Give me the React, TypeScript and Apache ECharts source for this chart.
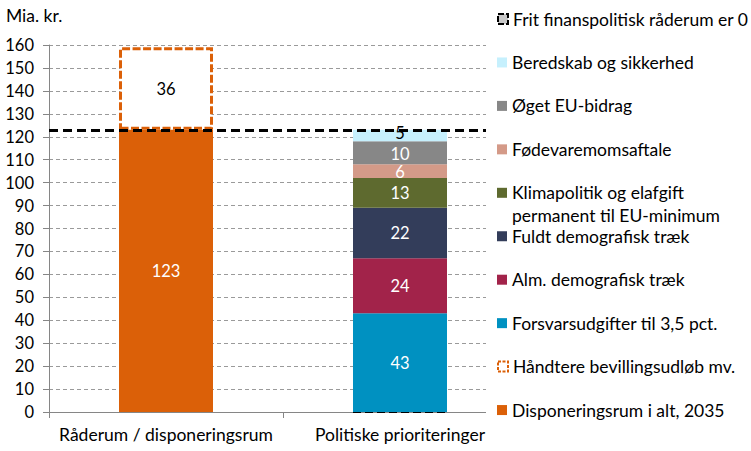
import React, { useEffect, useRef } from "react";
import * as echarts from "echarts";

const categories = ["Råderum / disponeringsrum", "Politiske prioriteringer"];
const disponeringsrum = [123, "-"];
const bevillingsudloeb = [36, "-"];
const fritRaaderum = ["-", 0];
const forsvar = ["-", 43];
const almDemografi = ["-", 24];
const fuldtDemografi = ["-", 22];
const klima = ["-", 13];
const foedevare = ["-", 6];
const euBidrag = ["-", 10];
const beredskab = ["-", 5];
const raaderumNiveau = 123;
const yMin = 0;
const yMax = 160;
const yInterval = 10;

const FONT = "Lato";
const ORANGE = "#DB6008";

const NAMES = {
  frit: "Frit finanspolitisk råderum er 0",
  beredskab: "Beredskab og sikkerhed",
  eu: "Øget EU-bidrag",
  foede: "Fødevaremomsaftale",
  klima: "Klimapolitik og elafgift permanent til EU-minimum",
  fuldt: "Fuldt demografisk træk",
  alm: "Alm. demografisk træk",
  forsvar: "Forsvarsudgifter til 3,5 pct.",
  haandtere: "Håndtere bevillingsudløb mv.",
  dispon: "Disponeringsrum i alt, 2035",
};
const klimaLine1 = "Klimapolitik og elafgift";
const klimaLine2 = "permanent til EU-minimum";

const legendOrder = [
  NAMES.frit,
  NAMES.beredskab,
  NAMES.eu,
  NAMES.foede,
  NAMES.klima,
  NAMES.fuldt,
  NAMES.alm,
  NAMES.forsvar,
  NAMES.haandtere,
  NAMES.dispon,
];

export default function App() {
  const ref = useRef<HTMLDivElement>(null);

  useEffect(() => {
    if (!ref.current) return;
    const chart = echarts.init(ref.current, null, { renderer: "svg" });

    const TXT = 17.5;
    const labelStyle = (color: string, offset: number[] = [0, 0]) => ({
      show: true,
      position: "inside",
      color,
      fontSize: 16.5,
      lineHeight: 16,
      fontFamily: FONT,
      offset,
    });

    const bar = (name: string, data: any[], color: string, labelColor: string, extra: any = {}) => ({
      name,
      type: "bar",
      stack: "total",
      barWidth: 94,
      data,
      itemStyle: { color, ...(extra.itemStyle || {}) },
      label: labelStyle(labelColor, extra.offset),
    });

    const lineH = 23;
    const step = 43.45;
    const legends = legendOrder.map((n, i) => {
      const center = 19 + step * i;
      const isKlima = n === NAMES.klima;
      let itemStyle: any = undefined;
      if (n === NAMES.haandtere) itemStyle = { color: "#fff", borderColor: ORANGE, borderWidth: 2, borderType: [3, 1.5] };
      if (n === NAMES.frit) itemStyle = { color: "#c8c8c8", borderColor: "#000", borderWidth: 2, borderType: [6, 2] };
      return {
        data: [itemStyle ? { name: n, itemStyle } : { name: n }],
        left: 497,
        top: center - lineH / 2,
        orient: "vertical",
        padding: 0,
        itemWidth: 10,
        itemHeight: 10,
        itemGap: 0,
        icon: "rect",
        selectedMode: false,
        z: 10,
        formatter: isKlima ? () => klimaLine1 : undefined,
        textStyle: {
          fontSize: TXT,
          fontFamily: FONT,
          color: "#000",
          lineHeight: lineH,
        },
      };
    });
    const klimaIndex = legendOrder.indexOf(NAMES.klima);

    chart.setOption({
      animation: false,
      textStyle: { fontFamily: FONT },
      title: {
        text: "Mia. kr.",
        left: 6,
        top: 6,
        padding: 0,
        textStyle: { fontSize: TXT, fontWeight: "normal", color: "#000", fontFamily: FONT },
      },
      grid: { left: 49, right: 751 - 517, top: 45, bottom: 451 - 412, containLabel: false },
      legend: legends,
      xAxis: {
        type: "category",
        data: categories,
        axisLine: { lineStyle: { color: "#868686", width: 1 } },
        axisTick: { show: true, alignWithLabel: false, length: 6, lineStyle: { color: "#868686" } },
        axisLabel: { fontSize: TXT, fontFamily: FONT, color: "#000", margin: 13, interval: 0 },
      },
      yAxis: {
        type: "value",
        min: yMin,
        max: yMax,
        interval: yInterval,
        axisLine: { show: true, lineStyle: { color: "#868686", width: 1 } },
        axisTick: { show: true, length: 6, lineStyle: { color: "#868686" } },
        axisLabel: { fontSize: 16.5, fontFamily: FONT, color: "#000", margin: 15 },
        splitLine: { show: true, lineStyle: { color: "#9a9a9a", type: [4, 3], width: 1 } },
      },
      graphic: [
        {
          type: "rect",
          z: 9,
          zlevel: 0,
          shape: { x: 486, y: 0, width: 265, height: 422 },
          style: { fill: "#fff" },
          silent: true,
        },
        {
          type: "text",
          z: 11,
          x: 512,
          y: 19 + step * klimaIndex + lineH,
          style: {
            text: klimaLine2,
            fontSize: TXT,
            fontFamily: FONT,
            fill: "#000",
            verticalAlign: "middle",
          },
        },
      ],
      series: [
        bar(NAMES.dispon, disponeringsrum, ORANGE, "#fff"),
        bar(NAMES.haandtere, bevillingsudloeb, "#fff", "#000", {
          itemStyle: { borderColor: ORANGE, borderWidth: 3, borderType: [8, 2.5] },
        }),
        {
          ...bar(NAMES.frit, fritRaaderum, "#c8c8c8", "#000", {
            itemStyle: { borderColor: "#000", borderWidth: 2, borderType: [8, 4] },
          }),
          label: { show: false },
          markLine: {
            silent: true,
            symbol: "none",
            label: { show: false },
            lineStyle: { color: "#000", type: [9, 5], width: 3 },
            data: [{ yAxis: raaderumNiveau }],
          },
        },
        bar(NAMES.forsvar, forsvar, "#0091C1", "#fff"),
        bar(NAMES.alm, almDemografi, "#A2234A", "#fff"),
        bar(NAMES.fuldt, fuldtDemografi, "#333D5A", "#fff"),
        bar(NAMES.klima, klima, "#5E6A2F", "#fff"),
        bar(NAMES.foede, foedevare, "#D49A88", "#fff", { offset: [0, 1] }),
        bar(NAMES.eu, euBidrag, "#878787", "#fff", { offset: [0, 1] }),
        bar(NAMES.beredskab, beredskab, "#C6F0FD", "#000", { offset: [0, -3] }),
      ],
    });

    return () => chart.dispose();
  }, []);

  return <div ref={ref} style={{ width: 751, height: 451, position: "absolute", left: 0, top: 0 }} />;
}
